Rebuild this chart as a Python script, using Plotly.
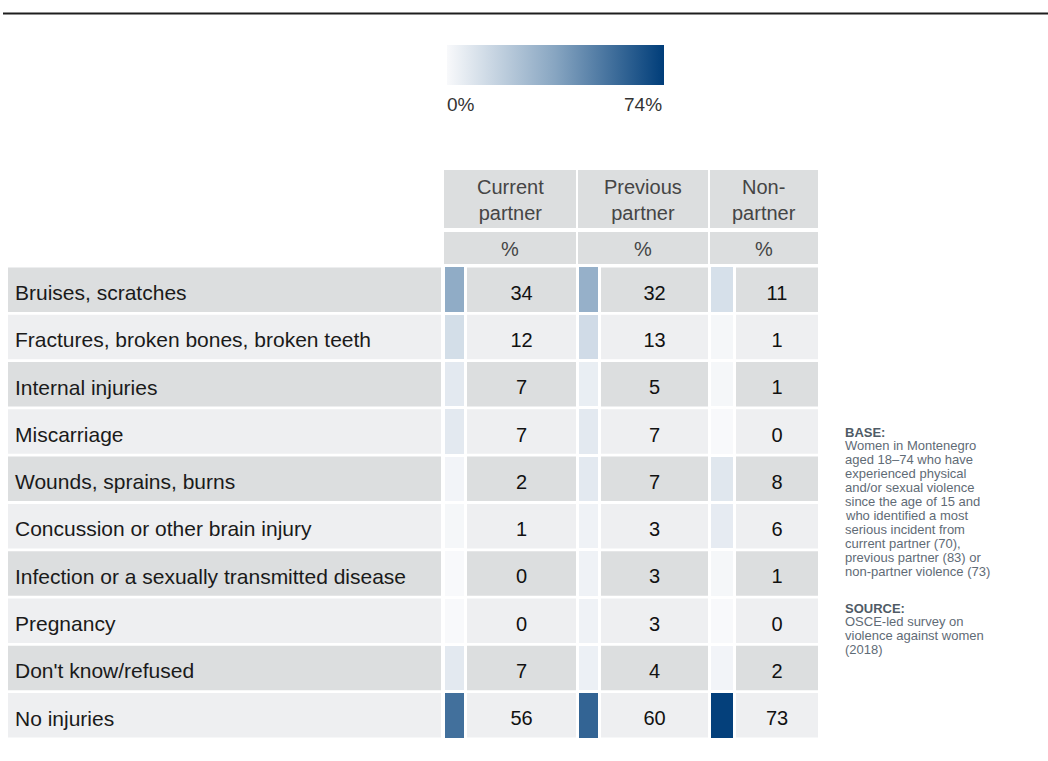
import plotly.graph_objects as go

# ---------------- data ----------------
injuries = [
    "Bruises, scratches",
    "Fractures, broken bones, broken teeth",
    "Internal injuries",
    "Miscarriage",
    "Wounds, sprains, burns",
    "Concussion or other brain injury",
    "Infection or a sexually transmitted disease",
    "Pregnancy",
    "Don't know/refused",
    "No injuries",
]
current_partner = [34, 12, 7, 7, 2, 1, 0, 0, 7, 56]
previous_partner = [32, 13, 5, 7, 7, 3, 3, 3, 4, 60]
non_partner = [11, 1, 1, 0, 8, 6, 1, 0, 2, 73]
column_titles = ["Current<br>partner", "Previous<br>partner", "Non-<br>partner"]
unit_label = "%"
scale_min, scale_max = 0, 74
scale_labels = ["0%", "74%"]
base_title = "BASE:"
base_lines = [
    "Women in Montenegro",
    "aged 18\u201374 who have",
    "experienced physical",
    "and/or sexual violence",
    "since the age of 15 and",
    "who identified a most",
    "serious incident from",
    "current partner (70),",
    "previous partner (83) or",
    "non-partner violence (73)",
]
source_title = "SOURCE:"
source_lines = ["OSCE-led survey on", "violence against women", "(2018)"]

# ---------------- style / geometry ----------------
W, H = 1048, 761
FONT = "Liberation Sans, Arial, Helvetica, sans-serif"
DARK, LIGHT = "#dcdedf", "#eeeff1"
colorscale = [[0, "#f8f9fb"], [0.5, "#87a5c1"], [1, "#003d79"]]


def py(p):
    return 1 - p / H


cols = [
    dict(sw=(445, 464), cell=(467, 576)),
    dict(sw=(579, 598), cell=(601, 708)),
    dict(sw=(711, 733), cell=(736, 818)),
]
series = [current_partner, previous_partner, non_partner]
label_cell = (8, 441)
rows_top, rows_bot = 266, 739
text_shift_px = 5
hdr1 = (170, 228)
hdr2 = (232, 264)

n = len(injuries)
row_px = (rows_bot - rows_top) / n
d = text_shift_px / row_px
fig = go.Figure()

shapes = []
for i in range(n):
    fill = DARK if i % 2 == 0 else LIGHT
    spans = [label_cell] + [c["cell"] for c in cols]
    for x0, x1 in spans:
        shapes.append(dict(type="rect", xref="x", yref="y", x0=x0, x1=x1,
                           y0=i - 0.47, y1=i + 0.47, fillcolor=fill,
                           line=dict(width=0), layer="below"))
for c in cols:
    for (y0, y1) in (hdr1, hdr2):
        shapes.append(dict(type="rect", xref="x", yref="paper", x0=c["sw"][0] - 1, x1=c["cell"][1],
                           y0=py(y1), y1=py(y0), fillcolor=DARK, line=dict(width=0), layer="below"))
shapes.append(dict(type="line", xref="paper", yref="paper", x0=3 / W, x1=1, y0=py(13.5), y1=py(13.5),
                   line=dict(color="#1e1e1e", width=2)))

for k, (c, vals) in enumerate(zip(cols, series)):
    marker = dict(color=vals, colorscale=colorscale, cmin=scale_min, cmax=scale_max,
                  line=dict(width=0))
    if k == 0:
        marker["showscale"] = True
        marker["colorbar"] = dict(orientation="h", x=447 / W, xanchor="left",
                                  y=py(45), yanchor="top", len=217, lenmode="pixels",
                                  thickness=40, thicknessmode="pixels", outlinewidth=0,
                                  showticklabels=False, ticks="", xpad=0, ypad=0)
    fig.add_trace(go.Bar(orientation="h", y=injuries, x=[c["sw"][1] - c["sw"][0]] * n,
                         base=c["sw"][0], width=0.94, marker=marker, hoverinfo="skip",
                         showlegend=False))
    fig.add_trace(go.Scatter(mode="text", y=injuries, x=[(c["cell"][0] + c["cell"][1]) / 2] * n,
                             yaxis="y2",
                             text=[str(v) for v in vals], textposition="middle center",
                             textfont=dict(family=FONT, size=20, color="#111111"),
                             hoverinfo="skip", showlegend=False))

fig.add_trace(go.Scatter(mode="text", y=injuries, x=[15] * n, text=injuries, yaxis="y2",
                         textposition="middle right",
                         textfont=dict(family=FONT, size=21, color="#1a1a1a"),
                         hoverinfo="skip", showlegend=False))

annotations = []
for c, title in zip(cols, column_titles):
    xc = (c["sw"][0] - 1 + c["cell"][1]) / 2
    annotations.append(dict(x=xc, xref="x", y=py((hdr1[0] + hdr1[1]) / 2 + 1), yref="paper",
                            text=title, showarrow=False, xanchor="center", yanchor="middle",
                            font=dict(family=FONT, size=20, color="#454545")))
    annotations.append(dict(x=xc, xref="x", y=py((hdr2[0] + hdr2[1]) / 2 + 1), yref="paper",
                            text=unit_label, showarrow=False, xanchor="center", yanchor="middle",
                            font=dict(family=FONT, size=20, color="#454545")))
annotations.append(dict(x=445, xref="x", y=py(104), yref="paper", text=scale_labels[0],
                        showarrow=False, xanchor="left", yanchor="middle",
                        font=dict(family=FONT, size=19, color="#333333")))
annotations.append(dict(x=664, xref="x", y=py(104), yref="paper", text=scale_labels[1],
                        showarrow=False, xanchor="right", yanchor="middle",
                        font=dict(family=FONT, size=19, color="#333333")))

note_x = 843
lh = 13.9


def note(text, ypix, bold=False):
    annotations.append(dict(x=note_x / W, xref="paper", y=py(ypix), yref="paper",
                            text=f"<b>{text}</b>" if bold else text, showarrow=False,
                            xanchor="left", yanchor="middle",
                            font=dict(family=FONT, size=13, color="#4f5b66" if bold else "#5f6b76")))


note(base_title, 432, True)
for j, t in enumerate(base_lines):
    note(t, 432 + lh * (j + 1))
note(source_title, 608, True)
for j, t in enumerate(source_lines):
    note(t, 608 + lh * (j + 1))

yax = dict(type="category", categoryorder="array", categoryarray=injuries,
           visible=False, fixedrange=True)
fig.update_layout(
    width=W, height=H, margin=dict(l=0, r=0, t=0, b=0),
    paper_bgcolor="white", plot_bgcolor="rgba(0,0,0,0)",
    barmode="overlay", bargap=0,
    shapes=shapes, annotations=annotations,
    xaxis=dict(range=[0, W], domain=[0, 1], visible=False, fixedrange=True),
    yaxis=dict(yax, range=[n - 0.5, -0.5], domain=[py(rows_bot), py(rows_top)]),
    yaxis2=dict(yax, range=[n - 0.5 - d, -0.5 - d], anchor="x", overlaying="y"),
    font=dict(family=FONT),
)

fig.write_html("out.html", config={"displayModeBar": False},
               post_script="document.body.style.margin='0';")
